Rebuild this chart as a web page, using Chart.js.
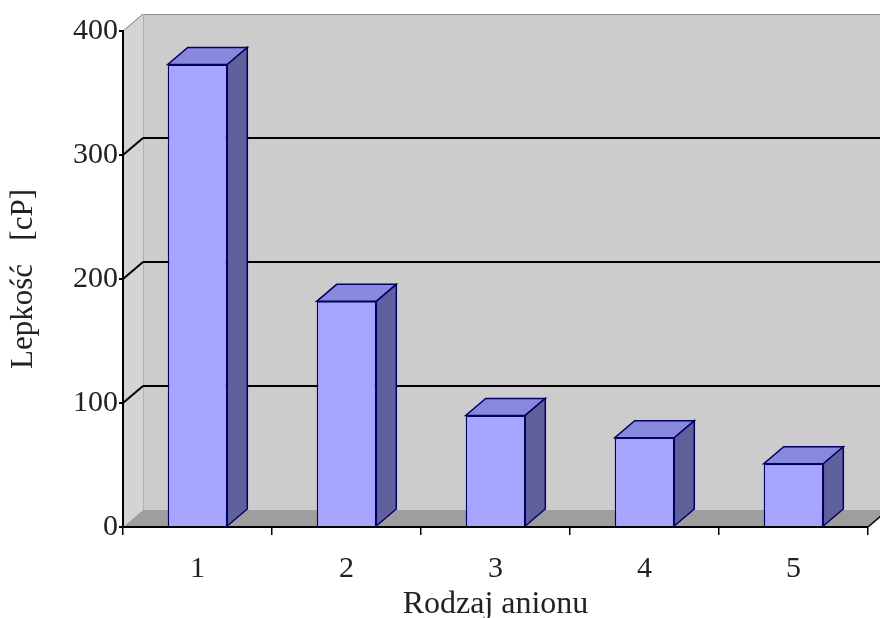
<!DOCTYPE html>
<html>
<head>
<meta charset="utf-8">
<script src="https://cdn.jsdelivr.net/npm/chart.js@4.4.0/dist/chart.umd.min.js"></script>
<style>
  body { margin: 0; background: #fff; }
</style>
</head>
<body>
<canvas id="viscosityChart" width="880" height="618"></canvas>
<script>
// Viscosity by anion type
var anions = ['1', '2', '3', '4', '5'];
var viscosity = [373, 182, 90, 72, 51];
var yTicks = [0, 100, 200, 300, 400];

// depth offset of the 3D box (walls and bars)
var DX = 20, DY = -17;

function poly(ctx, pts, fill, stroke, lw) {
    ctx.beginPath();
    ctx.moveTo(pts[0][0], pts[0][1]);
    for (var i = 1; i < pts.length; i++) ctx.lineTo(pts[i][0], pts[i][1]);
    ctx.closePath();
    if (fill) { ctx.fillStyle = fill; ctx.fill(); }
    if (stroke) { ctx.strokeStyle = stroke; ctx.lineWidth = lw || 1; ctx.stroke(); }
}

function line(ctx, x1, y1, x2, y2, color, lw) {
    ctx.beginPath();
    ctx.moveTo(x1, y1);
    ctx.lineTo(x2, y2);
    ctx.strokeStyle = color;
    ctx.lineWidth = lw;
    ctx.stroke();
}

var box3d = {
    id: 'box3d',
    beforeDraw: function (chart) {
        var ctx = chart.ctx, a = chart.chartArea, ys = chart.scales.y;
        ctx.save();
        // back wall
        ctx.fillStyle = '#cccccc';
        ctx.fillRect(a.left + DX, a.top + DY, chart.width - a.left - DX, a.bottom - a.top);
        line(ctx, a.left + DX, a.top + DY + 0.5, chart.width, a.top + DY + 0.5, '#8c8c8c', 1);
        // left side wall
        poly(ctx, [[a.left, a.top], [a.left + DX, a.top + DY], [a.left + DX, a.bottom + DY], [a.left, a.bottom]], '#d4d4d4');
        line(ctx, a.left + DX + 0.5, a.top + DY, a.left + DX + 0.5, a.bottom + DY, '#b0b0b0', 1);
        // floor
        poly(ctx, [[a.left, a.bottom], [a.right, a.bottom], [a.right + DX, a.bottom + DY], [a.left + DX, a.bottom + DY]], '#9e9e9e');
        line(ctx, a.right, a.bottom, a.right + DX, a.bottom + DY, '#000', 1.5);
        // gridlines on the back and left walls
        yTicks.forEach(function (v) {
            if (v === 0) return;
            var py = ys.getPixelForValue(v);
            var c = v === 400 ? '#7a7a7a' : '#000';
            line(ctx, a.left, py, a.left + DX, py + DY, c, v === 400 ? 1 : 2);
            if (v !== 400) line(ctx, a.left + DX, py + DY, chart.width, py + DY, '#000', 2);
        });
        ctx.restore();
    },
    afterDatasetsDraw: function (chart) {
        var ctx = chart.ctx;
        ctx.save();
        chart.getDatasetMeta(0).data.forEach(function (bar) {
            var p = bar.getProps(['x', 'y', 'base', 'width'], true);
            var l = p.x - p.width / 2, r = p.x + p.width / 2;
            // top face
            poly(ctx, [[l, p.y], [r, p.y], [r + DX, p.y + DY], [l + DX, p.y + DY]], '#8888dd', '#000066', 1.5);
            // side face
            poly(ctx, [[r, p.y], [r + DX, p.y + DY], [r + DX, p.base + DY], [r, p.base]], '#60609c', '#000066', 1.5);
        });
        ctx.restore();
    }
};

var serif = "'Liberation Serif', 'Times New Roman', serif";

var ctx = document.getElementById('viscosityChart').getContext('2d');
var chart = new Chart(ctx, {
    type: 'bar',
    data: {
        labels: anions,
        datasets: [{
            data: viscosity,
            backgroundColor: '#a6a6ff',
            borderColor: '#000066',
            borderWidth: 1.5,
            categoryPercentage: 1,
            barPercentage: 0.4
        }]
    },
    options: {
        responsive: false,
        animation: false,
        layout: { padding: { top: 31, right: 12 } },
        plugins: {
            legend: { display: false },
            tooltip: { enabled: false }
        },
        scales: {
            x: {
                grid: { display: true, drawOnChartArea: false, offset: true, tickLength: 8, color: '#000', lineWidth: 1.5 },
                border: { display: true, color: '#000', width: 2 },
                ticks: { color: '#222', padding: 16, font: { family: serif, size: 30 } },
                title: {
                    display: true,
                    text: 'Rodzaj anionu',
                    color: '#222',
                    padding: 0,
                    font: { family: serif, size: 32, lineHeight: 0.85 }
                },
                afterFit: function (s) { s.height = 91; }
            },
            y: {
                min: 0,
                max: 400,
                afterBuildTicks: function (s) {
                    s.ticks = yTicks.map(function (v) { return { value: v }; });
                },
                grid: { display: true, drawOnChartArea: false, tickLength: 4, color: '#000', lineWidth: 2 },
                border: { display: true, color: '#000', width: 2 },
                ticks: { color: '#222', padding: 1, font: { family: serif, size: 30 } },
                title: {
                    display: true,
                    text: 'Lepkość   [cP]',
                    color: '#222',
                    padding: { top: 5, bottom: 0 },
                    font: { family: serif, size: 31 }
                },
                afterFit: function (s) { s.width = 123; }
            }
        }
    },
    plugins: [box3d]
});
</script>
</body>
</html>
